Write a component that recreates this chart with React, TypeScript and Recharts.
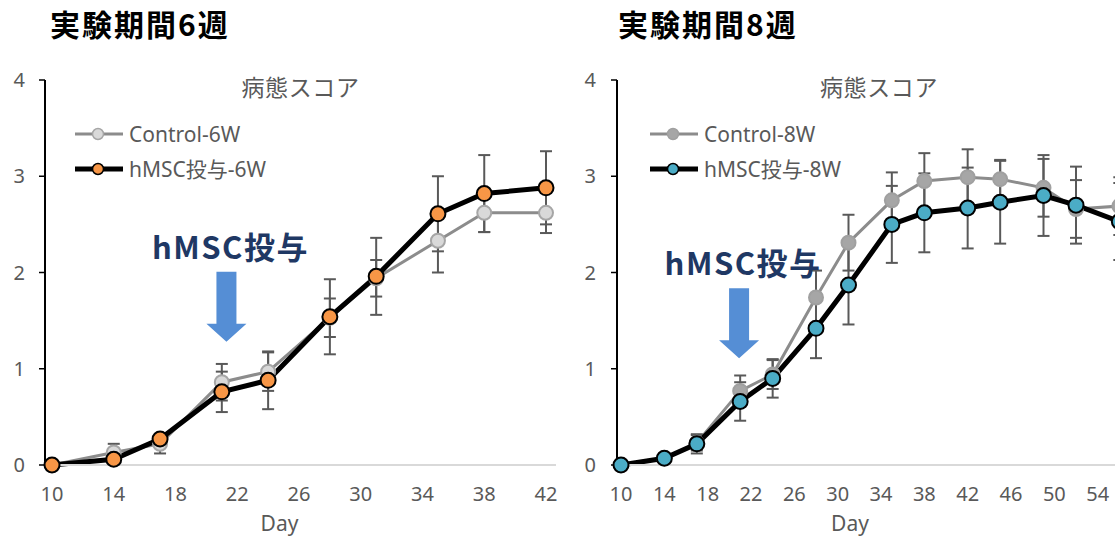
import React from 'react';
import { LineChart, Line, XAxis, YAxis, ErrorBar, ReferenceDot, Label } from 'recharts';

const LATIN = "'Noto Sans', 'Noto Sans CJK JP', sans-serif";
const CJK = "'Noto Sans CJK JP', 'Noto Sans', sans-serif";
const TEXT_GRAY = '#595959';

// 実験期間6週
const days6 = [10, 14, 17, 21, 24, 28, 31, 35, 38, 42];
const control6 = [0, 0.13, 0.22, 0.86, 0.97, 1.53, 1.94, 2.33, 2.62, 2.62];
const control6Err = [0, 0.09, 0.1, 0.19, 0.2, 0.2, 0.19, 0.33, 0.2, 0.21];
const hmsc6 = [0, 0.06, 0.27, 0.76, 0.88, 1.54, 1.96, 2.61, 2.82, 2.88];
const hmsc6Err = [0, 0.03, 0.05, 0.21, 0.3, 0.39, 0.4, 0.39, 0.4, 0.38];
const ticks6 = [10, 14, 18, 22, 26, 30, 34, 38, 42];

// 実験期間8週
const days8 = [10, 14, 17, 21, 24, 28, 31, 35, 38, 42, 45, 49, 52, 56];
const control8 = [0, 0.07, 0.23, 0.77, 0.94, 1.74, 2.31, 2.75, 2.95, 2.99, 2.97, 2.88, 2.66, 2.69];
const control8Err = [0, 0.03, 0.08, 0.16, 0.15, 0.28, 0.29, 0.29, 0.29, 0.29, 0.2, 0.3, 0.3, 0.3];
const hmsc8 = [0, 0.07, 0.22, 0.66, 0.9, 1.42, 1.87, 2.5, 2.62, 2.67, 2.73, 2.8, 2.7, 2.53];
const hmsc8Err = [0, 0.03, 0.1, 0.2, 0.2, 0.31, 0.41, 0.4, 0.41, 0.42, 0.43, 0.42, 0.4, 0.4];
const ticks8 = [10, 14, 18, 22, 26, 30, 34, 38, 42, 46, 50, 54];

const yTicks = [0, 1, 2, 3, 4];

type Series = {
  name: string;
  values: number[];
  errors: number[];
  line: string;
  lineWidth: number;
  fill: string;
  edge: string;
  r: number;
};

type PanelProps = {
  title: string;
  days: number[];
  ticks: number[];
  domain: [number, number];
  series: Series[];
  left: number;
  width: number;
  yAxisWidth: number;
  marginRight: number;
  padLeft: number;
  padRight: number;
  yTickMargin: number;
  titleLeft: number;
  legendLeft: number;
  dayShift: number;
  noteDay: number;
  noteTip: number;
};

// Blue down arrow with the "hMSC投与" note above it; (cx, cy) is the arrow tip.
const ArrowNote = (props: any) => {
  const { cx, cy } = props;
  const pts = [
    [cx - 10, cy - 70],
    [cx + 10, cy - 70],
    [cx + 10, cy - 18],
    [cx + 20, cy - 18],
    [cx, cy],
    [cx - 20, cy - 18],
    [cx - 10, cy - 18],
  ];
  return (
    <g>
      <polygon points={pts.map((p) => p.join(',')).join(' ')} fill="#558ed5" />
      <text
        x={cx + 4}
        y={cy - 83}
        textAnchor="middle"
        fontSize={31}
        fontWeight={700}
        fill="#1f3864"
        fontFamily={CJK}
        letterSpacing={1.5}
      >
        hMSC投与
      </text>
    </g>
  );
};

function Panel(p: PanelProps) {
  const rows = p.days.map((d, i) => {
    const row: Record<string, number> = { day: d };
    p.series.forEach((s, k) => {
      row[`v${k}`] = s.values[i];
      row[`e${k}`] = s.errors[i];
    });
    return row;
  });
  const plotLeft = p.yAxisWidth;
  const plotRight = p.width - p.marginRight;
  const plotCenter = (plotLeft + plotRight) / 2;

  return (
    <div style={{ position: 'absolute', left: p.left, top: 0, width: p.width, height: 536 }}>
      <LineChart
        width={p.width}
        height={536}
        data={rows}
        margin={{ top: 80, right: p.marginRight, bottom: 31, left: 0 }}
        style={{ position: 'absolute', left: 0, top: 0 }}
      >
        <XAxis
          type="number"
          dataKey="day"
          domain={p.domain}
          ticks={p.ticks}
          interval={0}
          padding={{ left: p.padLeft, right: p.padRight }}
          axisLine={{ stroke: '#d9d9d9', strokeWidth: 2 }}
          tickLine={false}
          tickSize={0}
          tickMargin={22}
          height={40}
          tick={{ fill: TEXT_GRAY, fontSize: 20, fontFamily: LATIN }}
        >
          <Label
            content={({ viewBox }: any) => (
              <text
                x={viewBox.x + viewBox.width / 2 + p.dayShift}
                y={viewBox.y + 66}
                textAnchor="middle"
                fontSize={21}
                fill={TEXT_GRAY}
                fontFamily={LATIN}
              >
                Day
              </text>
            )}
          />
        </XAxis>
        <YAxis
          type="number"
          domain={[0, 4]}
          ticks={yTicks}
          interval={0}
          width={p.yAxisWidth}
          axisLine={{ stroke: '#000000', strokeWidth: 2 }}
          tickLine={{ stroke: '#000000', strokeWidth: 1.5 }}
          tickSize={6}
          tickMargin={p.yTickMargin}
          tick={{ fill: TEXT_GRAY, fontSize: 20, fontFamily: LATIN }}
        />
        {p.series.map((s, k) => (
          <Line
            key={s.name}
            type="linear"
            dataKey={`v${k}`}
            name={s.name}
            stroke={s.line}
            strokeWidth={s.lineWidth}
            dot={{ r: s.r, fill: s.fill, stroke: s.edge, strokeWidth: 2 }}
            activeDot={false}
            isAnimationActive={false}
          >
            <ErrorBar dataKey={`e${k}`} width={6} stroke="#595959" strokeWidth={2} direction="y" />
          </Line>
        ))}
        <ReferenceDot x={p.noteDay} y={p.noteTip} r={0} shape={ArrowNote} />
      </LineChart>

      <svg
        width={p.width}
        height={536}
        style={{ position: 'absolute', left: 0, top: 0, pointerEvents: 'none' }}
      >
        <text
          x={p.titleLeft}
          y={36}
          fontSize={30}
          fontWeight={700}
          fill="#000"
          fontFamily={CJK}
          letterSpacing={2}
        >
          {p.title}
        </text>
        <text
          x={plotCenter}
          y={96}
          textAnchor="middle"
          fontSize={23}
          fill={TEXT_GRAY}
          fontFamily={CJK}
          letterSpacing={0.6}
        >
          病態スコア
        </text>
      </svg>

      <div style={{ position: 'absolute', left: p.legendLeft, top: 116.5 }}>
        {p.series.map((s) => (
          <div key={s.name} style={{ display: 'flex', alignItems: 'center', height: 35 }}>
            <svg width={54} height={20} style={{ display: 'block' }}>
              <line x1={0} y1={10} x2={48} y2={10} stroke={s.line} strokeWidth={s.lineWidth} />
              <circle cx={23} cy={10} r={5.5} fill={s.fill} stroke={s.edge} strokeWidth={1.5} />
            </svg>
            <span
              style={{
                fontSize: 21,
                color: TEXT_GRAY,
                fontFamily: LATIN,
                whiteSpace: 'nowrap',
                lineHeight: '35px',
              }}
            >
              {s.name}
            </span>
          </div>
        ))}
      </div>
    </div>
  );
}

export default function App() {
  const series6: Series[] = [
    { name: 'Control-6W', values: control6, errors: control6Err, line: '#8c8c8c', lineWidth: 3, fill: '#d9d9d9', edge: '#a6a6a6', r: 7 },
    { name: 'hMSC投与-6W', values: hmsc6, errors: hmsc6Err, line: '#000000', lineWidth: 5, fill: '#f79646', edge: '#000000', r: 7.5 },
  ];
  const series8: Series[] = [
    { name: 'Control-8W', values: control8, errors: control8Err, line: '#8c8c8c', lineWidth: 3, fill: '#a6a6a6', edge: '#a0a0a0', r: 7 },
    { name: 'hMSC投与-8W', values: hmsc8, errors: hmsc8Err, line: '#000000', lineWidth: 5, fill: '#4bacc6', edge: '#000000', r: 7.5 },
  ];

  return (
    <div
      style={{
        position: 'absolute',
        left: 0,
        top: 0,
        width: 1115,
        height: 536,
        overflow: 'hidden',
        background: '#ffffff',
      }}
    >
      <Panel
        title="実験期間6週"
        days={days6}
        ticks={ticks6}
        domain={[10, 42]}
        series={series6}
        left={0}
        width={560}
        yAxisWidth={45}
        marginRight={4}
        padLeft={7}
        padRight={10}
        yTickMargin={14}
        titleLeft={50}
        legendLeft={75}
        dayShift={-21}
        noteDay={21.3}
        noteTip={1.28}
      />
      <Panel
        title="実験期間8週"
        days={days8}
        ticks={ticks8}
        domain={[10, 58]}
        series={series8}
        left={560}
        width={600}
        yAxisWidth={57}
        marginRight={19}
        padLeft={4}
        padRight={0}
        yTickMargin={15}
        titleLeft={58}
        legendLeft={90}
        dayShift={-29}
        noteDay={20.9}
        noteTip={1.11}
      />
    </div>
  );
}
